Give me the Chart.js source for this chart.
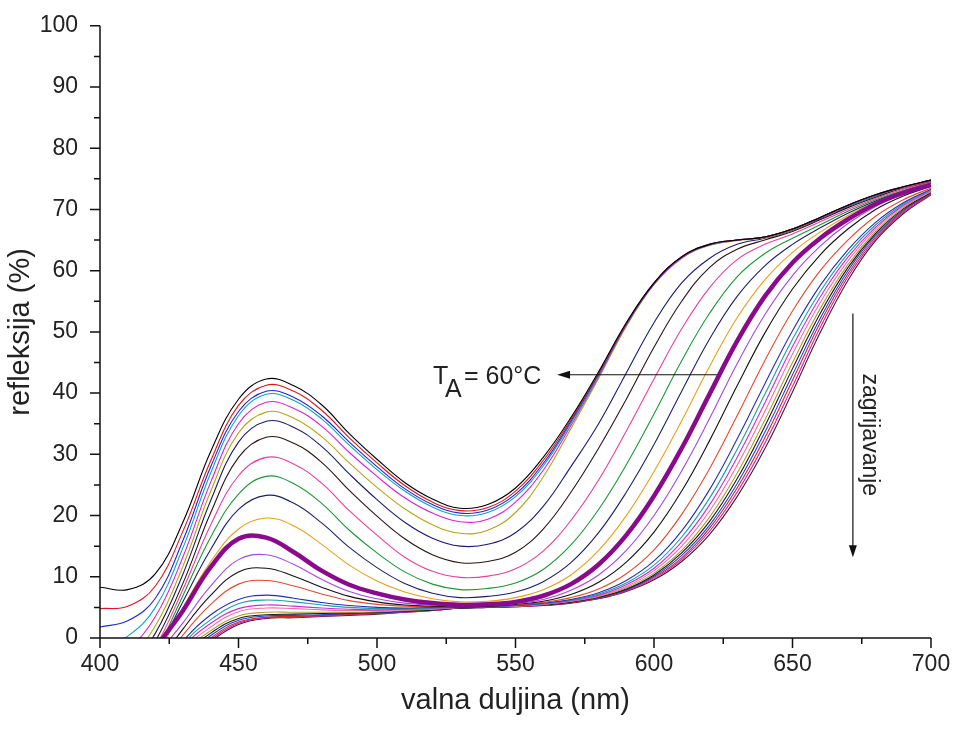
<!DOCTYPE html>
<html>
<head>
<meta charset="utf-8">
<title>refleksija</title>
<script src="https://cdn.jsdelivr.net/npm/chart.js@4.4.0/dist/chart.umd.min.js"></script>
<style>
  html, body { margin: 0; padding: 0; background: #fff; }
  #wrap { width: 955px; height: 733px; }
</style>
</head>
<body>
<div id="wrap"><canvas id="refChart" width="955" height="733"></canvas></div>
<script>
// valna duljina (nm), korak 10 nm
const valnaDuljina = [400, 410, 420, 430, 440, 450, 460, 470, 480, 490, 500, 510, 520,
  530, 540, 550, 560, 570, 580, 590, 600, 610, 620, 630, 640, 650, 660, 670, 680, 690, 700];

// oznake na osima
const xOznake = [400, 450, 500, 550, 600, 650, 700];
const yOznake = [0, 10, 20, 30, 40, 50, 60, 70, 80, 90, 100];

// refleksija (%) - krivulje redom zagrijavanja (ocitano sa slike)
const s01 = [8.3, 7.9, 10.5, 19, 30.5, 39, 42.3, 41.2, 38.1, 33.4, 29.2, 25.4, 22.7,
  21.2, 21.8, 24.5, 29.5, 36, 43.5, 51.5, 58, 62.3, 64.3, 65, 65.5, 66.8, 68.7, 70.7, 72.4, 73.7, 74.8];
const s02 = [4.8, 5.2, 8.5, 17.5, 29, 38, 41.3, 40.3, 37.2, 32.7, 28.6, 24.9, 22.2,
  20.8, 21.3, 24, 29, 35.7, 43.3, 51.4, 58, 62.3, 64.3, 65, 65.5, 66.8, 68.7, 70.7, 72.4, 73.7, 74.8];
const s03 = [1.8, 2.8, 6.5, 16, 28, 37, 40.3, 39.3, 36.3, 32.0, 28.0, 24.4, 21.8,
  20.4, 20.9, 23.5, 28.5, 35.4, 43.1, 51.3, 57.9, 62.2, 64.3, 65, 65.5, 66.8, 68.7, 70.7, 72.4, 73.7, 74.8];
const s04 = [-1.5, 0.3, 5, 14.8, 27, 36.3, 39.8, 38.8, 35.8, 31.5, 27.5, 24.0, 21.4,
  20.0, 20.5, 23.1, 28.1, 35.1, 42.9, 51.2, 57.9, 62.2, 64.2, 65, 65.5, 66.8, 68.7, 70.6, 72.3, 73.7, 74.8];
const s05 = [-4, -1.8, 3.5, 13.3, 25.5, 35, 38.5, 37.5, 34.6, 30.3, 26.4, 22.9, 20.4,
  19.0, 19.4, 22.2, 27.4, 34.7, 42.7, 51.1, 57.8, 62.1, 64.2, 65, 65.5, 66.8, 68.6, 70.6, 72.3, 73.6, 74.7];
const s06 = [-6, -3.5, 2, 11.8, 24, 33.5, 36.9, 35.9, 32.9, 28.6, 24.6, 21.1, 18.5,
  17.1, 17.6, 20.5, 26.3, 34.2, 42.4, 50.9, 57.7, 62, 64.1, 64.9, 65.4, 66.7, 68.6, 70.6, 72.3, 73.6, 74.7];
const s07 = [-8, -5, 0.8, 10.5, 22.5, 32, 35.4, 34.4, 31.3, 26.8, 22.6, 18.9, 16.3,
  15.0, 15.3, 17.2, 21.5, 28, 35, 43.3, 51.5, 58, 62, 64.3, 65.3, 66.6, 68.5, 70.5, 72.2, 73.6, 74.7];
const s08 = [-10, -7, -0.5, 9, 20.5, 29.5, 32.8, 31.8, 28.7, 24.1, 19.9, 16.2, 13.6,
  12.3, 12.5, 14, 17.8, 23.8, 31, 39, 47.5, 55, 60.5, 63.5, 65, 66.4, 68.3, 70.3, 72, 73.5, 74.6];
const s09 = [-12, -8, -1.5, 8, 18.5, 26.5, 29.5, 28.4, 25.3, 20.8, 16.8, 13.2, 10.9,
  9.9, 10.1, 11.3, 14.2, 19.2, 25.8, 33.8, 42.3, 50.5, 57.2, 61.8, 64.3, 66, 68, 70, 71.8, 73.3, 74.5];
const s10 = [-14, -10, -2.5, 7, 16.5, 23.5, 26.4, 25.2, 22.0, 17.6, 13.9, 10.8, 8.8,
  7.9, 8.1, 9, 11.2, 15.2, 21, 28.3, 36.6, 45.3, 53, 59, 62.8, 65.3, 67.5, 69.7, 71.6, 73.1, 74.4];
const s11 = [-15, -11, -3, 6, 14.5, 21, 23.3, 22.0, 18.8, 14.8, 11.5, 8.9, 7.3,
  6.6, 6.8, 7.5, 9.2, 12.3, 17.2, 23.8, 31.6, 40.3, 48.8, 55.8, 60.8, 64.3, 67, 69.4, 71.4, 73, 74.3];
const s12 = [-16, -12, -3.5, 5, 12.5, 17.8, 19.6, 18.3, 15.3, 11.9, 9.3, 7.5, 6.4,
  5.9, 6.0, 6.6, 7.9, 10.3, 14.3, 20, 27.2, 35.5, 44.3, 52.3, 58.5, 63, 66.3, 69, 71.2, 72.9, 74.2];
// TA = 60 °C (debela ljubicasta)
const s13 = [-17, -12, -2, 4.5, 11.6, 16.2, 16.4, 14.0, 11.0, 8.7, 7.3, 6.3, 5.7,
  5.4, 5.5, 5.9, 6.9, 8.8, 12, 16.8, 23.2, 31, 39.8, 48.5, 55.8, 61.3, 65.3, 68.4, 70.9, 72.7, 74];
const s14 = [-18, -13, -3.5, 2.5, 8.5, 12.8, 13.6, 12.0, 9.6, 7.6, 6.4, 5.7, 5.4,
  5.2, 5.3, 5.6, 6.3, 7.8, 10.3, 14.3, 20, 27.3, 35.8, 44.8, 52.8, 59.2, 64, 67.7, 70.5, 72.5, 73.9];
const s15 = [-18, -14, -5, 1.5, 7, 10.8, 11.4, 10.1, 8.3, 6.8, 5.9, 5.4, 5.2,
  5.1, 5.2, 5.5, 6.0, 7.1, 9.1, 12.4, 17.3, 24, 32.2, 41.2, 49.8, 57, 62.6, 66.8, 70, 72.2, 73.8];
const s16 = [-19, -15, -6, 0.5, 5.5, 8.8, 9.4, 8.5, 7.2, 6.1, 5.5, 5.2, 5.1,
  5.1, 5.2, 5.4, 5.8, 6.6, 8.0, 10.5, 14.4, 20.2, 27.6, 36.3, 45.3, 53.4, 60, 65, 68.9, 71.6, 73.5];
const s17 = [-20, -16, -7, -0.5, 3.8, 6.3, 7.0, 6.5, 5.8, 5.3, 5.0, 4.9, 5.0,
  5.0, 5.1, 5.3, 5.7, 6.3, 7.4, 9.4, 12.6, 17.5, 24.2, 32.5, 41.5, 50.2, 57.6, 63.4, 67.9, 71.1, 73.3];
const s18 = [-20, -16, -7.5, -1, 3, 5.6, 6.2, 5.9, 5.4, 5.0, 4.8, 4.8, 4.9,
  5.0, 5.1, 5.3, 5.6, 6.2, 7.2, 9.0, 11.9, 16.5, 22.8, 30.8, 39.8, 48.8, 56.6, 62.8, 67.5, 70.9, 73.2];
const s19 = [-20, -16, -8, -1.5, 2.4, 4.8, 5.4, 5.2, 4.9, 4.7, 4.6, 4.7, 4.8,
  5.0, 5.1, 5.3, 5.6, 6.1, 7.0, 8.7, 11.4, 15.7, 21.7, 29.5, 38.4, 47.6, 55.7, 62.2, 67.1, 70.7, 73.1];
const s20 = [-20, -17, -8.5, -2, 1.8, 4.3, 4.9, 4.8, 4.6, 4.5, 4.5, 4.6, 4.7,
  5.0, 5.1, 5.2, 5.5, 6.0, 6.9, 8.4, 11, 15, 20.7, 28.2, 37, 46.4, 54.8, 61.6, 66.8, 70.5, 73.0];
const s21 = [-21, -17, -9, -2.5, 1.2, 3.6, 4.2, 4.2, 4.2, 4.2, 4.3, 4.5, 4.7,
  5.0, 5.1, 5.2, 5.5, 6.0, 6.8, 8.2, 10.6, 14.3, 19.7, 26.9, 35.6, 45, 53.8, 61, 66.4, 70.3, 72.9];
const s22 = [-21, -17, -9.5, -3, 0.8, 3.2, 3.8, 3.9, 4.0, 4.1, 4.2, 4.4, 4.6,
  4.9, 5.0, 5.2, 5.4, 5.9, 6.7, 8.0, 10.3, 13.9, 19, 26, 34.6, 44, 53, 60.5, 66.1, 70.1, 72.8];
const s23 = [-21, -18, -10, -3.5, 0.4, 2.9, 3.6, 3.7, 3.8, 4.0, 4.1, 4.3, 4.6,
  4.9, 5.0, 5.2, 5.4, 5.9, 6.6, 7.9, 10.1, 13.5, 18.4, 25.2, 33.6, 43, 52.2, 60, 65.8, 69.9, 72.7];
const s24 = [-21, -18, -10, -4, 0, 2.6, 3.4, 3.5, 3.7, 3.9, 4.0, 4.3, 4.5,
  4.9, 5.0, 5.1, 5.4, 5.8, 6.5, 7.8, 9.9, 13.1, 17.9, 24.5, 32.7, 42.1, 51.5, 59.5, 65.5, 69.7, 72.6];
const s25 = [-22, -18, -10.5, -4.5, -0.3, 2.4, 3.3, 3.4, 3.6, 3.8, 4.0, 4.2, 4.5,
  4.9, 5.0, 5.1, 5.3, 5.8, 6.5, 7.7, 9.7, 12.8, 17.4, 23.8, 31.8, 41.1, 50.7, 59, 65.2, 69.5, 72.5];
const s26 = [-22, -18, -11, -5, -0.6, 2.2, 3.2, 3.3, 3.5, 3.7, 3.9, 4.2, 4.5,
  4.9, 5.0, 5.1, 5.3, 5.7, 6.4, 7.6, 9.5, 12.5, 16.9, 23.1, 30.9, 40.2, 49.9, 58.4, 64.9, 69.3, 72.4];

const serije = [s01, s02, s03, s04, s05, s06, s07, s08, s09, s10, s11, s12, s13,
  s14, s15, s16, s17, s18, s19, s20, s21, s22, s23, s24, s25, s26];

// boje kao u Originu
const boje = ['#000000', '#e0141e', '#1c28d8', '#10a4b4', '#dc20d0', '#b8a418', '#1a1a70',
  '#2a1414', '#e8409c', '#1c9638', '#1e2068', '#e8a018', '#8a0a8c', '#a448e4', '#111111',
  '#e24a30', '#2430b0', '#14a0aa', '#d22ad2', '#f070aa', '#b0a030', '#181818', '#2040e0',
  '#e02020', '#c020c0', '#501818'];
const DEBELA = 12; // indeks krivulje TA = 60 °C

const FONT = "'Liberation Sans', Arial, sans-serif";

const datasets = serije.map((s, i) => ({
  data: s.map((v, j) => ({ x: valnaDuljina[j], y: v })),
  borderColor: boje[i],
  borderWidth: i === DEBELA ? 4.5 : 1.1,
  pointRadius: 0,
  tension: 0.4,
  clip: 0,
  order: i === DEBELA ? -1 : 0
}));

// osi s duljim glavnim i kracim sporednim crticama + strelice i natpisi
const osiPlugin = {
  id: 'osi',
  afterDraw(chart) {
    const ctx = chart.ctx;
    const x = chart.scales.x, y = chart.scales.y;
    const a = chart.chartArea;
    ctx.save();
    ctx.strokeStyle = '#111';
    ctx.lineWidth = 1.5;
    ctx.beginPath();
    ctx.moveTo(a.left, a.top);
    ctx.lineTo(a.left, a.bottom);
    ctx.lineTo(a.right, a.bottom);
    y.ticks.forEach(t => {
      const py = y.getPixelForValue(t.value);
      const len = yOznake.includes(t.value) ? 10 : 6;
      ctx.moveTo(a.left, py); ctx.lineTo(a.left - len, py);
    });
    x.ticks.forEach(t => {
      const px = x.getPixelForValue(t.value);
      const len = xOznake.includes(t.value) ? 10 : 6;
      ctx.moveTo(px, a.bottom); ctx.lineTo(px, a.bottom + len);
    });
    ctx.stroke();

    // vodoravna strelica do krivulje TA = 60 °C
    ctx.lineWidth = 1.2;
    ctx.fillStyle = '#111';
    const ay = y.getPixelForValue(43);
    const ax1 = x.getPixelForValue(622.7), ax0 = x.getPixelForValue(565);
    ctx.beginPath();
    ctx.moveTo(ax1, ay); ctx.lineTo(ax0 + 8, ay);
    ctx.stroke();
    ctx.beginPath();
    ctx.moveTo(ax0, ay); ctx.lineTo(ax0 + 13, ay - 4); ctx.lineTo(ax0 + 13, ay + 4);
    ctx.closePath(); ctx.fill();

    ctx.fillStyle = '#222';
    ctx.font = '25px ' + FONT;
    ctx.textBaseline = 'alphabetic';
    ctx.textAlign = 'left';
    ctx.fillText('T', 433, ay + 9);
    ctx.fillText('A', 445, ay + 22);
    ctx.fillText('= 60°C', 464, ay + 9);

    // okomita strelica "zagrijavanje"
    const vx = x.getPixelForValue(671.8);
    const vy0 = y.getPixelForValue(53), vy1 = y.getPixelForValue(13.2);
    ctx.beginPath();
    ctx.moveTo(vx, vy0); ctx.lineTo(vx, vy1 - 8);
    ctx.stroke();
    ctx.fillStyle = '#111';
    ctx.beginPath();
    ctx.moveTo(vx, vy1); ctx.lineTo(vx - 4, vy1 - 12); ctx.lineTo(vx + 4, vy1 - 12);
    ctx.closePath(); ctx.fill();

    ctx.fillStyle = '#222';
    ctx.font = '23px ' + FONT;
    ctx.translate(vx + 16, y.getPixelForValue(33.2));
    ctx.rotate(Math.PI / 2);
    ctx.textAlign = 'center';
    ctx.textBaseline = 'middle';
    ctx.fillText('zagrijavanje', 0, 0);
    ctx.restore();
  }
};

new Chart(document.getElementById('refChart'), {
  type: 'line',
  data: { datasets },
  options: {
    responsive: false,
    devicePixelRatio: 1,
    animation: false,
    events: [],
    layout: { padding: { top: 25, right: 24, left: 0, bottom: 0 } },
    plugins: { legend: { display: false }, tooltip: { enabled: false } },
    scales: {
      x: {
        type: 'linear',
        min: 400, max: 700,
        afterFit: s => { s.height = 95; },
        grid: { display: false, drawTicks: true, tickLength: 10 },
        border: { display: false },
        ticks: {
          stepSize: 25, autoSkip: false, maxRotation: 0, padding: 3,
          color: '#222', font: { family: FONT, size: 23 },
          callback: v => xOznake.includes(v) ? String(v) : ''
        },
        title: {
          display: true, text: 'valna duljina (nm)', color: '#222',
          font: { family: FONT, size: 29 }, padding: { top: 0, bottom: 15 }
        }
      },
      y: {
        min: 0, max: 100,
        afterFit: s => { s.width = 100; },
        grid: { display: false, drawTicks: true, tickLength: 10 },
        border: { display: false },
        ticks: {
          stepSize: 5, autoSkip: false, padding: 12,
          color: '#222', font: { family: FONT, size: 23 },
          callback: v => yOznake.includes(v) ? String(v) : ''
        },
        title: {
          display: true, text: 'refleksija (%)', color: '#222',
          font: { family: FONT, size: 29 }, padding: { top: 4, bottom: 0 }
        }
      }
    }
  },
  plugins: [osiPlugin]
});
</script>
</body>
</html>
